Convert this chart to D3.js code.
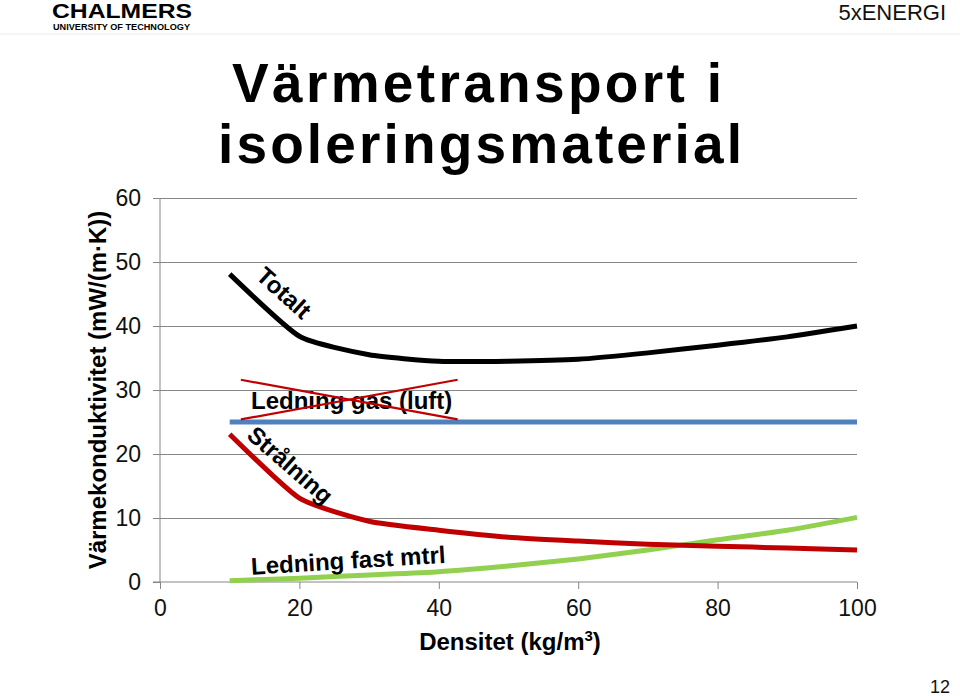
<!DOCTYPE html>
<html>
<head>
<meta charset="utf-8">
<script src="https://cdn.jsdelivr.net/npm/d3@7"></script>
<style>
  html, body { margin: 0; padding: 0; background: #fff; }
  svg { display: block; font-family: Arial, "Liberation Sans", sans-serif; }
</style>
</head>
<body>
<svg id="chart" width="960" height="696"></svg>
<script>
// ---- Data ----
const densities = [10, 20, 30, 40, 50, 60, 70, 80, 90, 100];
const totalt      = [48.1, 38.4, 35.5, 34.5, 34.5, 34.8, 35.8, 37.0, 38.3, 40.0];
const gasLuft     = [25, 25, 25, 25, 25, 25, 25, 25, 25, 25];
const stralning   = [23.1, 13.1, 9.5, 8.1, 7.0, 6.4, 5.9, 5.6, 5.3, 5.0];
const fastMtrl    = [0.2, 0.6, 1.1, 1.6, 2.5, 3.6, 5.0, 6.6, 8.1, 10.1];
const xTicks = [0, 20, 40, 60, 80, 100];
const yTicks = [0, 10, 20, 30, 40, 50, 60];
const seriesNames = ["Totalt", "Ledning gas (luft)", "Strålning", "Ledning fast mtrl"];
const titleLines = ["Värmetransport i", "isoleringsmaterial"];
const yLabel = "Värmekonduktivitet (mW/(m·K))";
const xLabelParts = ["Densitet (kg/m", "3", ")"];

// ---- Setup ----
const svg = d3.select("#chart");
const pLeft = 160, pRight = 857, pTop = 198, pBottom = 582;
const x = d3.scaleLinear().domain([0, 100]).range([pLeft, pRight]);
const y = d3.scaleLinear().domain([0, 60]).range([pBottom, pTop]);
const axisColor = "#868686";

// Header
svg.append("text").attr("x", 52).attr("y", 18).attr("font-size", 21).attr("font-weight", "bold")
  .attr("textLength", 140).attr("lengthAdjust", "spacingAndGlyphs").text("CHALMERS");
svg.append("text").attr("x", 53).attr("y", 29.5).attr("font-size", 9).attr("font-weight", "bold")
  .attr("textLength", 137).attr("lengthAdjust", "spacingAndGlyphs").text("UNIVERSITY OF TECHNOLOGY");
svg.append("line").attr("x1", 0).attr("x2", 960).attr("y1", 34).attr("y2", 34)
  .attr("stroke", "#ececec").attr("stroke-width", 1);
svg.append("text").attr("x", 946).attr("y", 20).attr("font-size", 22).attr("text-anchor", "end")
  .attr("fill", "#111").text("5xENERGI");
svg.append("text").attr("x", 950).attr("y", 693).attr("font-size", 18).attr("text-anchor", "end")
  .attr("fill", "#111").text("12");

// Title
const titleSpec = [{cx: 477, by: 102, w: 490}, {cx: 480, by: 163, w: 524}];
titleLines.forEach((t, i) => {
  svg.append("text").attr("x", titleSpec[i].cx - titleSpec[i].w / 2).attr("y", titleSpec[i].by)
    .attr("font-size", 55).attr("font-weight", "bold")
    .attr("textLength", titleSpec[i].w).attr("lengthAdjust", "spacing")
    .text(t);
});

// Gridlines
svg.append("g").selectAll("line").data(yTicks.filter(d => d > 0)).join("line")
  .attr("x1", pLeft).attr("x2", pRight)
  .attr("y1", d => y(d)).attr("y2", d => y(d))
  .attr("stroke", axisColor).attr("stroke-width", 1).attr("shape-rendering", "crispEdges");

// Y axis
const yAxis = d3.axisLeft(y).tickValues(yTicks).tickSize(7).tickPadding(12).tickFormat(d3.format("d"));
const gy = svg.append("g").attr("transform", `translate(${pLeft},0)`).call(yAxis);
gy.select(".domain").attr("stroke", axisColor).attr("d", `M0,${pBottom}V${pTop}`);
gy.selectAll(".tick line").attr("stroke", axisColor);
gy.selectAll(".tick text").attr("font-size", 23).attr("fill", "#111").attr("font-family", "Arial, 'Liberation Sans', sans-serif");

// X axis
const xAxis = d3.axisBottom(x).tickValues(xTicks).tickSize(7).tickPadding(11).tickFormat(d3.format("d"));
const gx = svg.append("g").attr("transform", `translate(0,${pBottom})`).call(xAxis);
gx.select(".domain").attr("stroke", axisColor).attr("d", `M${pLeft - 7},0H${pRight}`);
gx.selectAll(".tick line").attr("stroke", axisColor);
gx.selectAll(".tick text").attr("font-size", 23).attr("fill", "#111").attr("font-family", "Arial, 'Liberation Sans', sans-serif");

// Axis titles
svg.append("text").attr("transform", "translate(106,390) rotate(-90)")
  .attr("text-anchor", "middle").attr("font-size", 24).attr("font-weight", "bold").text(yLabel);
const xt = svg.append("text").attr("x", 510).attr("y", 650).attr("text-anchor", "middle")
  .attr("font-size", 24).attr("font-weight", "bold");
xt.append("tspan").text(xLabelParts[0]);
xt.append("tspan").attr("font-size", 15).attr("dy", -9).text(xLabelParts[1]);
xt.append("tspan").attr("dy", 9).text(xLabelParts[2]);

// Lines
const line = d3.line().x((d, i) => x(densities[i])).y(d => y(d)).curve(d3.curveCardinal.tension(0.45));
const series = [
  {name: seriesNames[1], values: gasLuft, color: "#4f81bd"},
  {name: seriesNames[3], values: fastMtrl, color: "#92d050"},
  {name: seriesNames[2], values: stralning, color: "#c00000"},
  {name: seriesNames[0], values: totalt, color: "#000000"}
];
svg.append("g").selectAll("path").data(series).join("path")
  .attr("d", d => line(d.values)).attr("fill", "none")
  .attr("stroke", d => d.color).attr("stroke-width", 5)
  .attr("stroke-linejoin", "round");

// Annotations (data coordinates)
const ann = svg.append("g").attr("font-weight", "bold").attr("font-size", 24).attr("fill", "#000");
ann.append("text").attr("transform", `translate(${x(17.8)},${y(45.2)}) rotate(42)`)
  .attr("text-anchor", "middle").attr("dominant-baseline", "central").text(seriesNames[0]);
ann.append("text").attr("transform", `translate(${x(18.7)},${y(18.3)}) rotate(41)`)
  .attr("text-anchor", "middle").attr("dominant-baseline", "central").text(seriesNames[2]);
ann.append("text").attr("transform", `translate(${x(27.0)},${y(3.4)}) rotate(-3.5)`)
  .attr("text-anchor", "middle").attr("dominant-baseline", "central").text(seriesNames[3]);
ann.append("text").attr("x", x(27.5)).attr("y", y(27.1))
  .attr("text-anchor", "middle").text(seriesNames[1]);

// Red cross over the gas label
const cross = [[11.6, 31.6, 42.7, 25.4], [11.6, 25.4, 42.7, 31.6]];
svg.append("g").selectAll("line").data(cross).join("line")
  .attr("x1", d => x(d[0])).attr("y1", d => y(d[1]))
  .attr("x2", d => x(d[2])).attr("y2", d => y(d[3]))
  .attr("stroke", "#c00000").attr("stroke-width", 2.2);
</script>
</body>
</html>
